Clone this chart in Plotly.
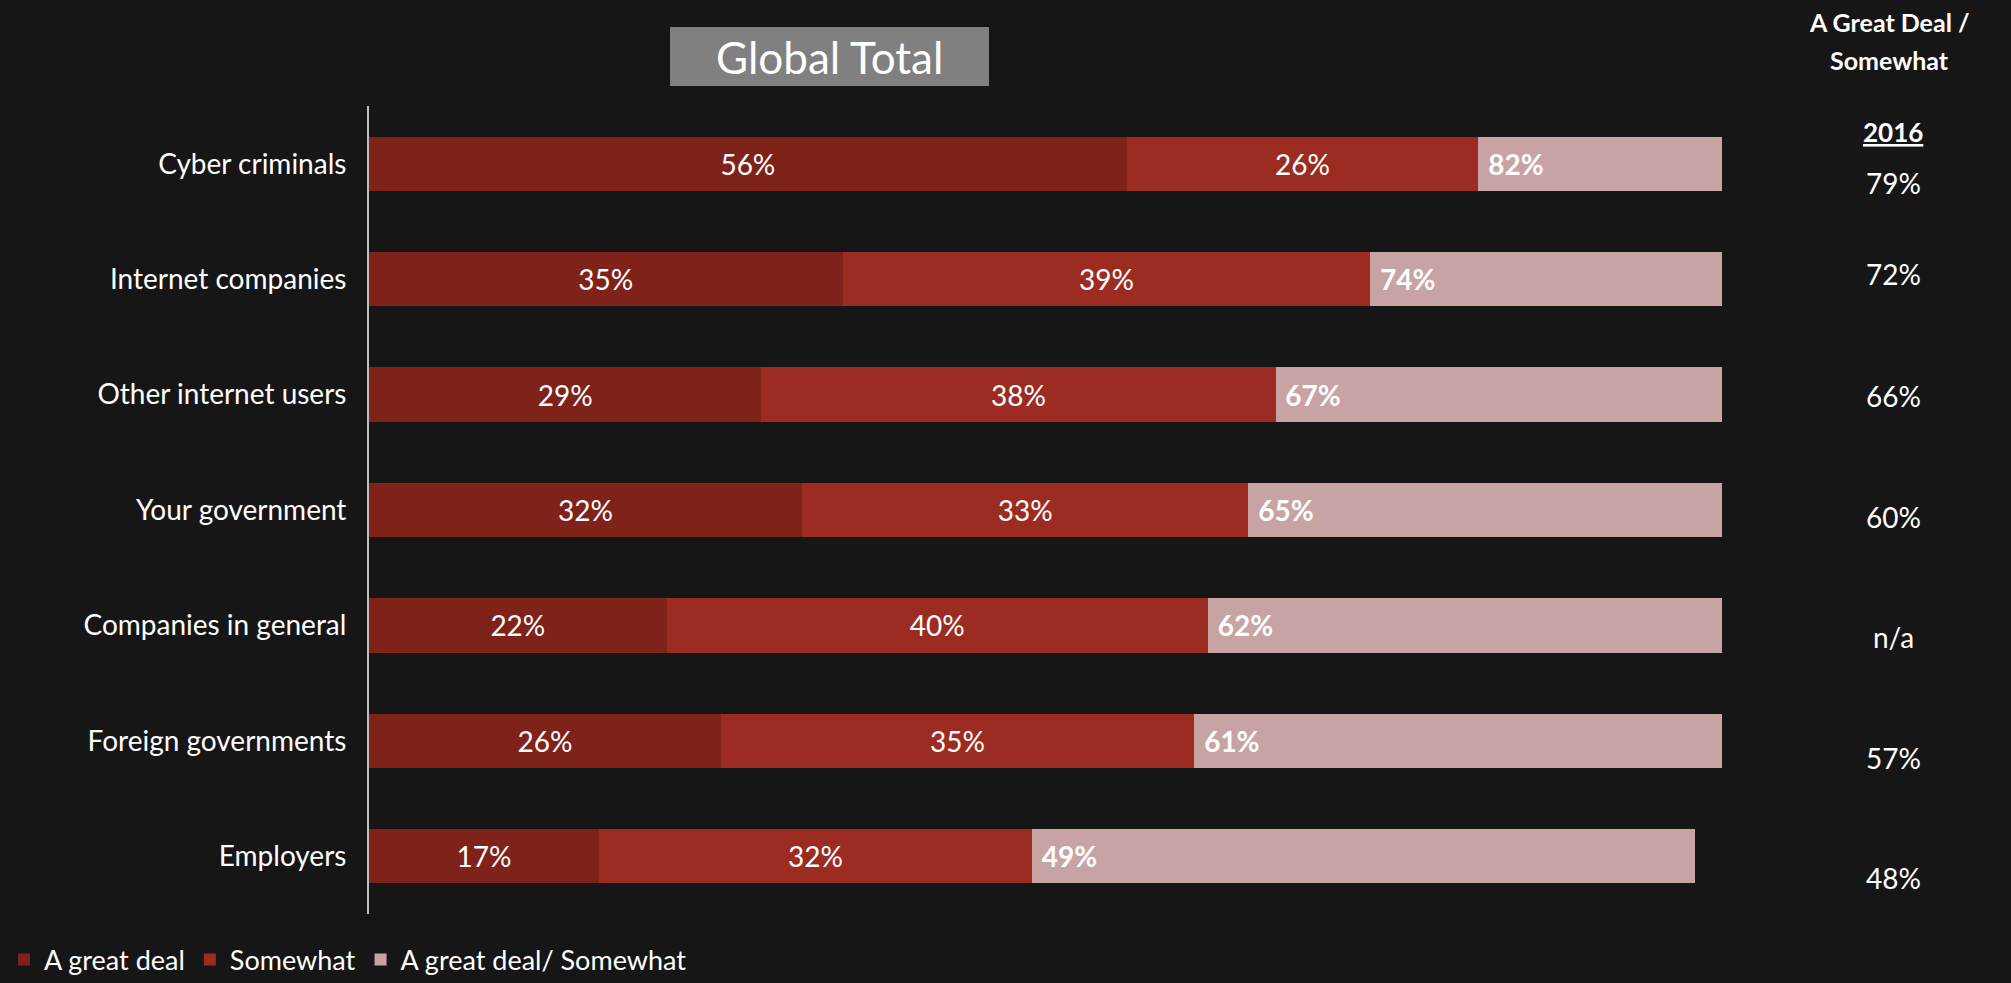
import plotly.graph_objects as go

# Survey data
categories = [
    "Cyber criminals",
    "Internet companies",
    "Other internet users",
    "Your government",
    "Companies in general",
    "Foreign governments",
    "Employers",
]
great_deal = [56, 35, 29, 32, 22, 26, 17]
somewhat = [26, 39, 38, 33, 40, 35, 32]
combined = [82, 74, 67, 65, 62, 61, 49]
prior_2016 = ["79%", "72%", "66%", "60%", "n/a", "57%", "48%"]

C_DEEP = "#7E221A"
C_MID = "#9C2C21"
C_LIGHT = "#C8A3A3"
BG = "#161616"
FONT = "Lato"

W, H = 2011, 983
L, R, T, B = 369, 1722, 106, 914


def px_x(p):
    return (p - L) / (R - L)


def px_y(p):
    return (B - p) / (B - T)


fig = go.Figure()

fig.add_trace(go.Bar(
    y=categories, x=great_deal, orientation="h", name="A great deal",
    marker=dict(color=C_DEEP, line=dict(width=0)),
    text=[f"{v}%" for v in great_deal], textposition="inside",
    insidetextanchor="middle",
    textfont=dict(family=FONT, size=28, color="white"),
))
fig.add_trace(go.Bar(
    y=categories, x=somewhat, orientation="h", name="Somewhat",
    marker=dict(color=C_MID, line=dict(width=0)),
    text=[f"{v}%" for v in somewhat], textposition="inside",
    insidetextanchor="middle",
    textfont=dict(family=FONT, size=28, color="white"),
))
fig.add_trace(go.Bar(
    y=categories, x=combined, orientation="h", name="A great deal/ Somewhat",
    marker=dict(color=C_LIGHT, line=dict(width=0)),
    text=[f"<b>\u00a0{v}%</b>" for v in combined], textposition="inside",
    insidetextanchor="start",
    textfont=dict(family=FONT, size=28, color="white"),
))

annotations = []
# Title box
annotations.append(dict(
    x=px_x(829), y=px_y(57), xref="paper", yref="paper",
    text="Global Total", showarrow=False,
    font=dict(family=FONT, size=44, color="white"),
    xanchor="center", yanchor="middle",
))
# Right-hand column header
annotations.append(dict(
    x=px_x(1889), y=px_y(22), xref="paper", yref="paper",
    text="<b>A Great Deal /</b>", showarrow=False,
    font=dict(family=FONT, size=25, color="white"),
    xanchor="center", yanchor="middle",
))
annotations.append(dict(
    x=px_x(1889), y=px_y(60), xref="paper", yref="paper",
    text="<b>Somewhat</b>", showarrow=False,
    font=dict(family=FONT, size=25, color="white"),
    xanchor="center", yanchor="middle",
))
annotations.append(dict(
    x=px_x(1893), y=px_y(132), xref="paper", yref="paper",
    text="<b><u>2016</u></b>", showarrow=False,
    font=dict(family=FONT, size=26, color="white"),
    xanchor="center", yanchor="middle",
))
value_rows = [183, 274, 396, 517, 637, 758, 878]
for txt, py in zip(prior_2016, value_rows):
    annotations.append(dict(
        x=px_x(1893), y=px_y(py), xref="paper", yref="paper",
        text=txt, showarrow=False,
        font=dict(family=FONT, size=28, color="white"),
        xanchor="center", yanchor="middle",
    ))

shapes = [dict(
    type="rect", xref="paper", yref="paper",
    x0=px_x(670), x1=px_x(989), y0=px_y(86), y1=px_y(27),
    fillcolor="#808080", line=dict(width=0), layer="below",
)]

fig.update_layout(
    width=W, height=H,
    barmode="stack", bargap=0.53,
    paper_bgcolor=BG, plot_bgcolor=BG,
    margin=dict(l=L, r=W - R, t=T, b=H - B, pad=0, autoexpand=False),
    font=dict(family=FONT, color="white"),
    uniformtext=dict(mode="show", minsize=10),
    xaxis=dict(range=[0, 100], visible=False, fixedrange=True),
    yaxis=dict(
        autorange="reversed", showline=True, linecolor="#BFBFBF", linewidth=2,
        ticks="", showgrid=False, zeroline=False,
        tickfont=dict(family=FONT, size=28, color="white"),
        ticklabelstandoff=15,
    ),
    legend=dict(
        orientation="h", x=px_x(4), y=px_y(960), xanchor="left", yanchor="middle",
        font=dict(family=FONT, size=27, color="white"),
        bgcolor="rgba(0,0,0,0)", itemwidth=30, traceorder="normal",
    ),
    annotations=annotations,
    shapes=shapes,
    showlegend=True,
)

fig.write_html("out.html")
